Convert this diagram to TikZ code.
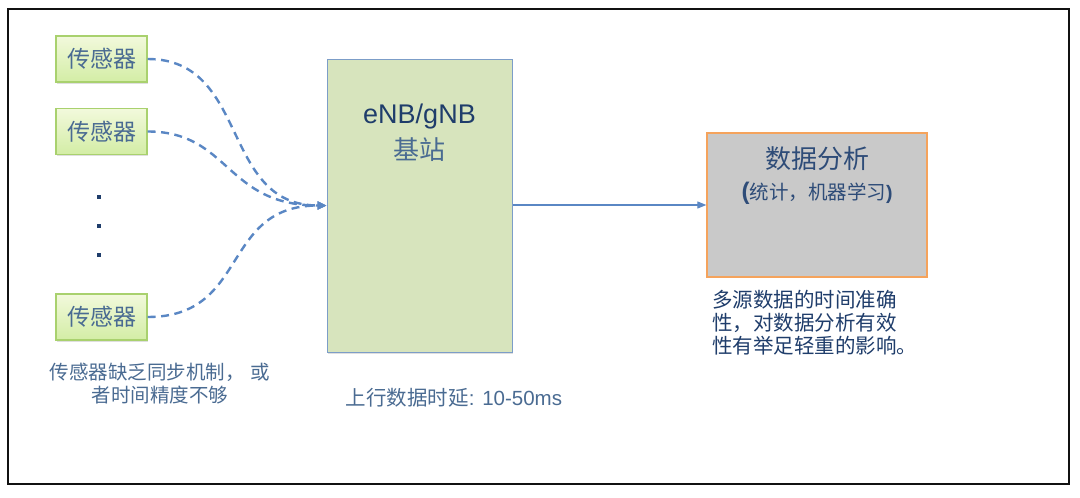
\documentclass[tikz,border=0pt]{standalone}
\usepackage{fontspec}
\setmainfont{Liberation Sans}
\newfontfamily\cjk{Noto Sans CJK SC}
\usetikzlibrary{arrows.meta,shadows}
\definecolor{frameblk}{HTML}{111111}
\definecolor{sensborder}{HTML}{A9D16E}
\definecolor{senstop}{HTML}{F2F9DC}
\definecolor{sensbot}{HTML}{D3EDA5}
\definecolor{bsfill}{HTML}{D7E4BD}
\definecolor{bsborder}{HTML}{7C9DC8}
\definecolor{dafill}{HTML}{C9C9C9}
\definecolor{daborder}{HTML}{F5A35C}
\definecolor{linkblue}{HTML}{5A87C4}
\definecolor{navy}{HTML}{1F3D6B}
\definecolor{softblue}{HTML}{4A6B92}
\definecolor{midnavy}{HTML}{2E4C78}
\tikzset{
  sensor/.style={draw=sensborder, line width=1.2pt, top color=senstop, bottom color=sensbot,
    minimum width=91pt, minimum height=46pt, inner sep=0pt,
    drop shadow={opacity=0.25, shadow xshift=1.2pt, shadow yshift=-1.5pt},
    text=softblue, font=\cjk\fontsize{23}{26}\selectfont},
  bsbox/.style={draw=bsborder, line width=1pt, fill=bsfill, minimum width=185pt, minimum height=293pt,
    inner sep=0pt, drop shadow={opacity=0.25, shadow xshift=1.2pt, shadow yshift=-1.5pt}},
  dabox/.style={draw=daborder, line width=1.3pt, fill=dafill, minimum width=220pt, minimum height=144pt,
    inner sep=0pt},
  link/.style={draw=linkblue, line width=2.4pt, dash pattern=on 8pt off 5.5pt,
    -{Triangle[length=9pt,width=8pt,fill=linkblue]}},
  flow/.style={draw=linkblue, line width=1.1pt, -{Triangle[length=9pt,width=7pt,fill=linkblue]}},
  dotmark/.style={rectangle, fill=navy, inner sep=0pt, minimum size=3.6pt},
  capt/.style={text=softblue, align=center, inner sep=0pt, font=\cjk\fontsize{19.5}{23}\selectfont}
}
\begin{document}
\begin{tikzpicture}[x=1pt,y=-1pt]
\useasboundingbox (0,0) rectangle (1080,498);
\fill[white] (0,0) rectangle (1080,498);
\draw[frameblk, line width=2.2pt] (8,9) rectangle (1069,484);

% sensors
\node[sensor] (s1) at (101.5,59) {传感器};
\node[sensor] (s2) at (101.5,131.5) {传感器};
\node[sensor] (s3) at (101.5,317) {传感器};
\node[dotmark] (d1) at (99,197) {};
\node[dotmark] (d2) at (99,226) {};
\node[dotmark] (d3) at (99,255) {};
\node[capt] (scap) at (160,383.5) {传感器缺乏同步机制，\hspace{6pt}或\\者时间精度不够};

% base station
\node[bsbox] (bs) at (419.5,205.5) {};
\node[text=navy, inner sep=0pt, font=\fontsize{27}{30}\selectfont] (bst1) at (419.5,117) {eNB/gNB};
\node[text=softblue, inner sep=0pt, font=\cjk\fontsize{26}{30}\selectfont] (bst2) at (419.5,150) {基站};
\node[text=softblue, inner sep=0pt, font=\fontsize{20.5}{24}\selectfont] (lat) at (454,398) {{\cjk 上行数据时延}: 10-50ms};

% data analysis
\node[dabox] (da) at (817,205) {};
\node[text=midnavy, inner sep=0pt, font=\cjk\fontsize{26}{30}\selectfont] (dat1) at (817,159) {数据分析};
\node[text=midnavy, inner sep=0pt, font=\cjk\fontsize{19.5}{23}\selectfont] (dat2) at (817,193)
  {{\fontspec{Liberation Sans}\bfseries\fontsize{24}{24}\selectfont(}统计，机器学习{\fontspec{Liberation Sans}\bfseries)}};
\node[text=navy, align=left, inner sep=0pt, anchor=north west, font=\cjk\fontsize{20.5}{22.8}\selectfont] (dcap) at (712,290)
  {多源数据的时间准确\\性，对数据分析有效\\性有举足轻重的影响。};

% connectors
\draw[link] (s1.east) .. controls (250,59) and (220,205.5) .. (bs.west);
\draw[link] (s2.east) .. controls (230,131.5) and (225,205.5) .. (bs.west);
\draw[link] (s3.east) .. controls (250,317) and (220,205.5) .. (bs.west);
\draw[flow] (bs.east |- da.west) -- (da.west);
\end{tikzpicture}
\end{document}
